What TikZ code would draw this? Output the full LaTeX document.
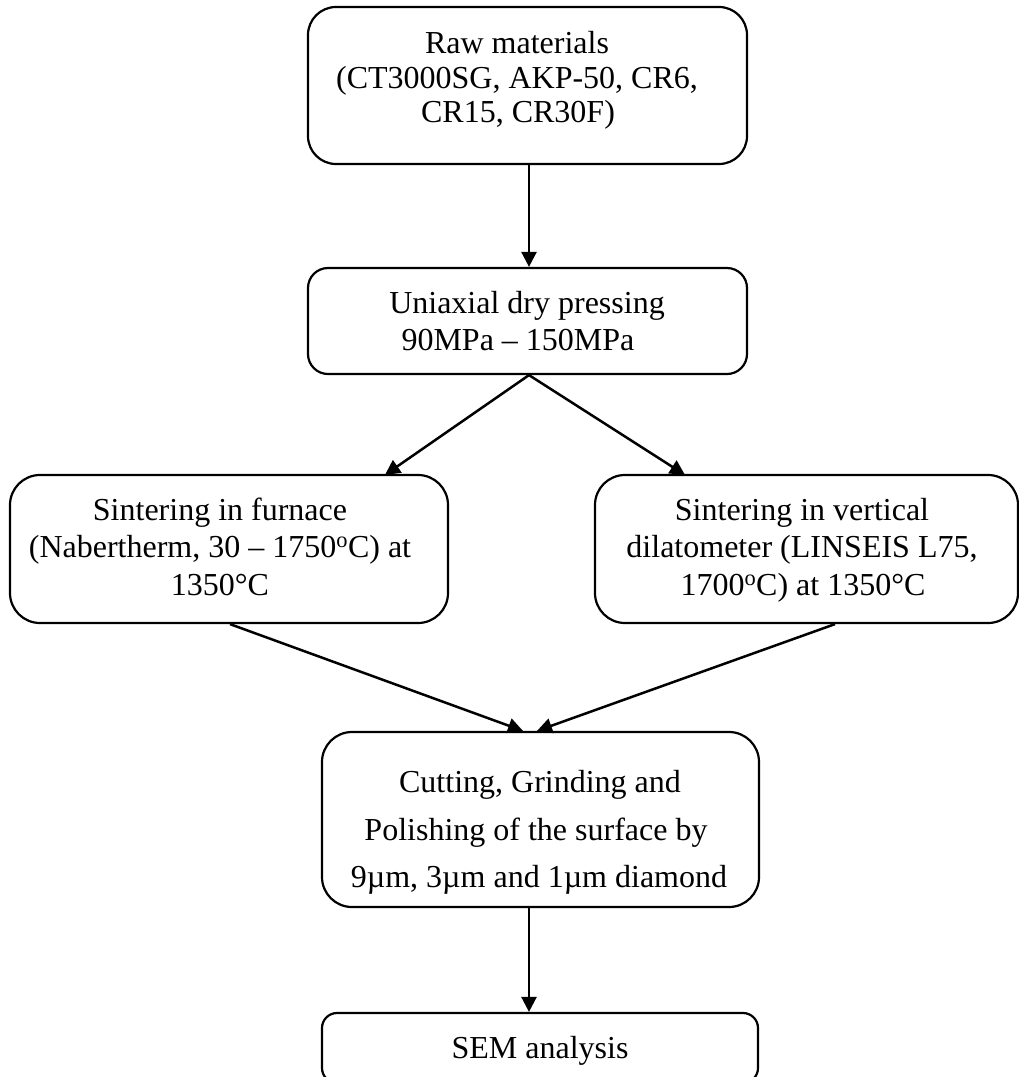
\documentclass[tikz,border=0pt]{standalone}
\usepackage{fontspec}
\setmainfont{Liberation Serif}
\usetikzlibrary{arrows.meta}
\tikzset{
  boxnode/.style={draw=black, line width=2.2pt, rectangle, rounded corners=#1, inner sep=0pt},
  boxnode/.default=28pt,
  txt/.style={anchor=base, inner sep=0pt, font=\fontsize{32}{38}\selectfont},
  conn/.style={line width=2.5pt, -{Triangle[length=15pt,width=15pt]}}
}
\begin{document}
\begin{tikzpicture}[x=1pt,y=-1pt]
\useasboundingbox (0,0) rectangle (1019,1077);
% boxes
\node[boxnode, minimum width=439pt, minimum height=157pt] (b1) at (527.5,85.5) {};
\node[boxnode=20pt, minimum width=439pt, minimum height=106pt] (b2) at (527.5,321) {};
\node[boxnode=30pt, minimum width=438pt, minimum height=148pt] (b3) at (229,549) {};
\node[boxnode=30pt, minimum width=423pt, minimum height=148pt] (b4) at (806.5,549) {};
\node[boxnode=30pt, minimum width=437pt, minimum height=175pt] (b5) at (540.5,819.5) {};
\node[boxnode=15pt, minimum width=436pt, minimum height=70pt] (b6) at (540,1048) {};
% texts
\node[txt] (t1a) at (517,53) {Raw materials};
\node[txt] (t1b) at (517,88) {(CT3000SG, AKP-50, CR6,};
\node[txt] (t1c) at (518,122) {CR15, CR30F)};
\node[txt] (t2a) at (527,313) {Uniaxial dry pressing};
\node[txt] (t2b) at (518,350) {90MPa – 150MPa};
\node[txt] (t3a) at (220,520) {Sintering in furnace};
\node[txt] (t3b) at (220,557) {(Nabertherm, 30 – 1750\textsuperscript{o}C) at};
\node[txt] (t3c) at (220,595) {1350°C};
\node[txt] (t4a) at (802,520) {Sintering in vertical};
\node[txt] (t4b) at (802,557) {dilatometer (LINSEIS L75,};
\node[txt] (t4c) at (803,595) {1700\textsuperscript{o}C) at 1350°C};
\node[txt] (t5a) at (540,792) {Cutting, Grinding and};
\node[txt] (t5b) at (536,840) {Polishing of the surface by};
\node[txt] (t5c) at (539,887) {9µm, 3µm and 1µm diamond};
\node[txt] (t6) at (540,1058) {SEM analysis};
% connectors
\draw[conn] ([xshift=1.5pt]b1.south) -- ([xshift=1.5pt]b2.north);
\draw[conn] ([xshift=1.5pt]b2.south) -- ([xshift=156pt,yshift=-1pt]b3.north);
\draw[conn] ([xshift=1.5pt]b2.south) -- ([xshift=-121.5pt,yshift=-1pt]b4.north);
\draw[conn] ([xshift=1pt]b3.south) -- ([xshift=-17.5pt]b5.north);
\draw[conn] ([xshift=28.5pt]b4.south) -- ([xshift=-3.5pt]b5.north);
\draw[conn] ([xshift=-11.5pt]b5.south) -- ([xshift=-11pt]b6.north);
\end{tikzpicture}
\end{document}
